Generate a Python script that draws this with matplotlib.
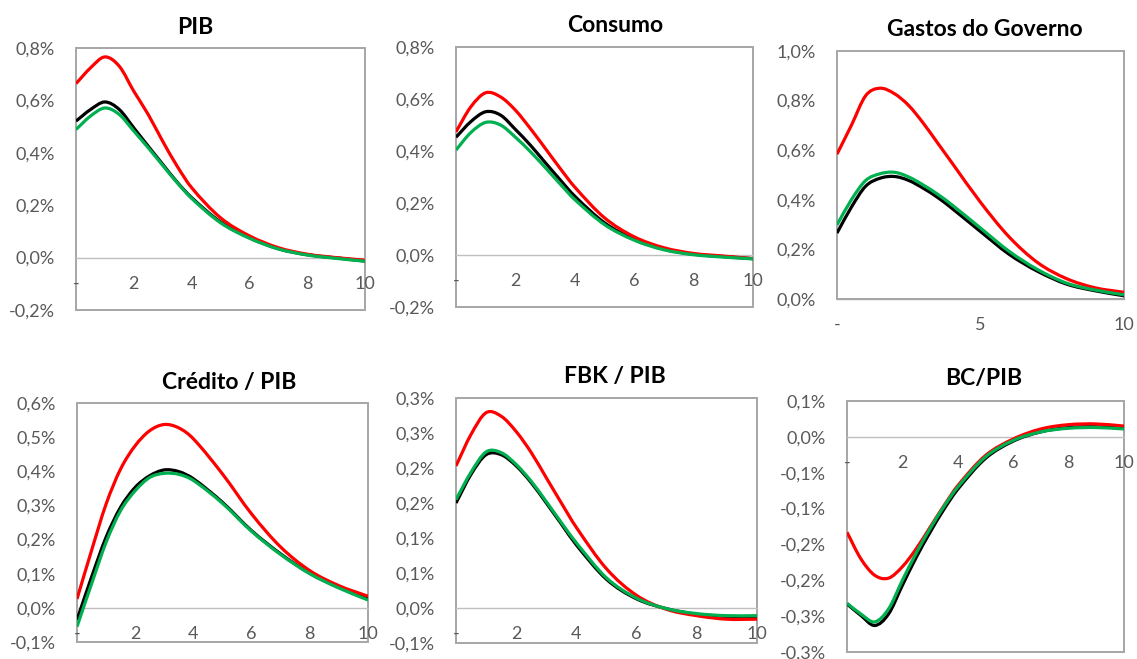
import matplotlib
matplotlib.use('Agg')
import matplotlib.pyplot as plt
from matplotlib.path import Path
from matplotlib.patches import PathPatch
from matplotlib.ticker import FixedLocator, FixedFormatter

plt.rcParams['font.family'] = ['Lato', 'DejaVu Sans']

COLORS = {'red': '#FF0000', 'black': '#000000', 'green': '#00B050'}
TICK_COLOR = '#595959'
FRAME_COLOR = '#A6A6A6'
ZERO_COLOR = '#BFBFBF'

# horizon (quarters)
x = [0, 0.5, 1, 1.5, 2, 2.5, 3, 3.5, 4, 5, 6, 7, 8, 9, 10]

# values in %
pib_red = [0.664, 0.724, 0.766, 0.730, 0.635, 0.546, 0.444, 0.349, 0.267, 0.152, 0.083, 0.038, 0.013, 0.000, -0.010]
pib_black = [0.521, 0.565, 0.594, 0.565, 0.495, 0.425, 0.356, 0.288, 0.229, 0.136, 0.076, 0.034, 0.011, -0.001, -0.013]
pib_green = [0.489, 0.540, 0.571, 0.546, 0.483, 0.419, 0.352, 0.286, 0.226, 0.133, 0.074, 0.033, 0.010, -0.003, -0.014]

cons_red = [0.474, 0.570, 0.624, 0.608, 0.557, 0.487, 0.411, 0.334, 0.261, 0.143, 0.070, 0.028, 0.006, -0.004, -0.014]
cons_black = [0.453, 0.513, 0.551, 0.538, 0.483, 0.423, 0.356, 0.290, 0.226, 0.124, 0.060, 0.022, 0.003, -0.006, -0.014]
cons_green = [0.404, 0.471, 0.510, 0.500, 0.453, 0.398, 0.337, 0.274, 0.213, 0.117, 0.057, 0.020, 0.001, -0.008, -0.015]

gov_red = [0.584, 0.700, 0.820, 0.850, 0.828, 0.780, 0.710, 0.630, 0.550, 0.390, 0.250, 0.146, 0.082, 0.045, 0.027]
gov_black = [0.266, 0.370, 0.455, 0.487, 0.494, 0.478, 0.447, 0.410, 0.366, 0.272, 0.180, 0.111, 0.060, 0.033, 0.013]
gov_green = [0.299, 0.400, 0.478, 0.505, 0.511, 0.492, 0.460, 0.423, 0.380, 0.286, 0.192, 0.118, 0.064, 0.036, 0.017]

cred_red = [0.026, 0.168, 0.304, 0.407, 0.475, 0.519, 0.537, 0.527, 0.495, 0.392, 0.275, 0.178, 0.109, 0.065, 0.034]
cred_black = [-0.035, 0.090, 0.207, 0.295, 0.353, 0.387, 0.404, 0.399, 0.378, 0.309, 0.226, 0.158, 0.101, 0.060, 0.026]
cred_green = [-0.055, 0.070, 0.192, 0.285, 0.343, 0.382, 0.394, 0.391, 0.373, 0.306, 0.224, 0.156, 0.100, 0.058, 0.023]

fbk_red = [0.203, 0.248, 0.279, 0.274, 0.252, 0.222, 0.186, 0.150, 0.115, 0.056, 0.018, -0.002, -0.011, -0.016, -0.016]
fbk_black = [0.150, 0.191, 0.219, 0.219, 0.203, 0.179, 0.150, 0.120, 0.090, 0.041, 0.013, -0.001, -0.009, -0.012, -0.012]
fbk_green = [0.155, 0.194, 0.223, 0.222, 0.205, 0.181, 0.152, 0.122, 0.093, 0.043, 0.014, -0.001, -0.008, -0.011, -0.011]

bc_red = [-0.133, -0.170, -0.193, -0.197, -0.181, -0.156, -0.126, -0.096, -0.068, -0.026, -0.003, 0.011, 0.017, 0.018, 0.015]
bc_black = [-0.233, -0.249, -0.263, -0.247, -0.207, -0.168, -0.133, -0.101, -0.073, -0.030, -0.006, 0.007, 0.013, 0.014, 0.012]
bc_green = [-0.232, -0.247, -0.258, -0.240, -0.200, -0.162, -0.128, -0.097, -0.070, -0.028, -0.005, 0.007, 0.012, 0.013, 0.011]

titles = ['PIB', 'Consumo', 'Gastos do Governo', 'Crédito / PIB', 'FBK / PIB', 'BC/PIB']

xticks_main = [0, 2, 4, 6, 8, 10]
xlabels_main = ['-', '2', '4', '6', '8', '10']
xticks_gov = [0, 5, 10]
xlabels_gov = ['-', '5', '10']

yticks_pib = [-0.2, 0.0, 0.2, 0.4, 0.6, 0.8]
ylabels_pib = ['-0,2%', '0,0%', '0,2%', '0,4%', '0,6%', '0,8%']
yticks_gov = [0.0, 0.2, 0.4, 0.6, 0.8, 1.0]
ylabels_gov = ['0,0%', '0,2%', '0,4%', '0,6%', '0,8%', '1,0%']
yticks_cred = [-0.1, 0.0, 0.1, 0.2, 0.3, 0.4, 0.5, 0.6]
ylabels_cred = ['-0,1%', '0,0%', '0,1%', '0,2%', '0,3%', '0,4%', '0,5%', '0,6%']
yticks_fbk = [-0.05, 0.0, 0.05, 0.10, 0.15, 0.20, 0.25, 0.30]
ylabels_fbk = ['-0,1%', '0,0%', '0,1%', '0,1%', '0,2%', '0,2%', '0,3%', '0,3%']
yticks_bc = [-0.30, -0.25, -0.20, -0.15, -0.10, -0.05, 0.0, 0.05]
ylabels_bc = ['-0,3%', '-0,3%', '-0,2%', '-0,2%', '-0,1%', '-0,1%', '0,0%', '0,1%']

panels = [
    (pib_red, pib_black, pib_green, yticks_pib, ylabels_pib, xticks_main, xlabels_main),
    (cons_red, cons_black, cons_green, yticks_pib, ylabels_pib, xticks_main, xlabels_main),
    (gov_red, gov_black, gov_green, yticks_gov, ylabels_gov, xticks_gov, xlabels_gov),
    (cred_red, cred_black, cred_green, yticks_cred, ylabels_cred, xticks_main, xlabels_main),
    (fbk_red, fbk_black, fbk_green, yticks_fbk, ylabels_fbk, xticks_main, xlabels_main),
    (bc_red, bc_black, bc_green, yticks_bc, ylabels_bc, xticks_main, xlabels_main),
]

W, H = 1137, 659
# axes boxes in pixels: left, top, right, bottom
boxes = [(76, 48, 365, 310), (456, 47, 753, 307), (837, 51, 1124, 299),
         (77, 403, 368, 642), (456, 398, 757, 643), (847, 401, 1124, 652)]
# title centres in pixels
title_pos = [(195, 28), (615, 25), (985, 29), (229, 382), (615, 377), (984, 378)]


def smooth_line(ax, xs, ys, color, z):
    """Excel-like smoothed line: cubic Hermite segments through the data points."""
    n = len(xs)
    m = []
    for i in range(n):
        a, b = max(i - 1, 0), min(i + 1, n - 1)
        m.append((ys[b] - ys[a]) / (xs[b] - xs[a]))
    verts = [(xs[0], ys[0])]
    codes = [Path.MOVETO]
    for i in range(n - 1):
        h = xs[i + 1] - xs[i]
        verts += [(xs[i] + h / 3, ys[i] + m[i] * h / 3),
                  (xs[i + 1] - h / 3, ys[i + 1] - m[i + 1] * h / 3),
                  (xs[i + 1], ys[i + 1])]
        codes += [Path.CURVE4] * 3
    patch = PathPatch(Path(verts, codes), facecolor='none', edgecolor=color,
                      lw=2.3, zorder=z, capstyle='butt', joinstyle='round')
    ax.add_patch(patch)


fig = plt.figure(figsize=(W / 100, H / 100), dpi=100)
fig.patch.set_facecolor('white')

for i, (red, black, green, yt, yl, xt, xl) in enumerate(panels):
    l, t, r, b = boxes[i]
    ax = fig.add_axes([l / W, 1 - b / H, (r - l) / W, (b - t) / H])
    smooth_line(ax, x, black, COLORS['black'], 3)
    smooth_line(ax, x, red, COLORS['red'], 4)
    smooth_line(ax, x, green, COLORS['green'], 5)
    ax.set_xlim(0, 10)
    ax.set_ylim(yt[0], yt[-1])

    # frame
    for s in ['top', 'left', 'right']:
        ax.spines[s].set_visible(False)
    ax.patch.set_edgecolor(FRAME_COLOR)
    ax.patch.set_linewidth(1.4)
    ax.patch.set_zorder(0)
    # horizontal axis crosses at zero
    ax.spines['bottom'].set_position(('data', 0))
    ax.spines['bottom'].set_color(ZERO_COLOR if yt[0] < 0 else FRAME_COLOR)
    ax.spines['bottom'].set_linewidth(1.0)
    ax.spines['bottom'].set_zorder(1)

    ax.xaxis.set_major_locator(FixedLocator(xt))
    ax.xaxis.set_major_formatter(FixedFormatter(xl))
    ax.yaxis.set_major_locator(FixedLocator(yt))
    ax.yaxis.set_major_formatter(FixedFormatter(yl))
    ax.tick_params(axis='x', length=0, pad=13, labelsize=13, labelcolor=TICK_COLOR)
    ax.tick_params(axis='y', length=0, pad=15, labelsize=13, labelcolor=TICK_COLOR)

    cx, cy = title_pos[i]
    fig.text(cx / W, 1 - cy / H, titles[i], ha='center', va='center',
             fontsize=16.5, fontweight='bold', color='black')

fig.savefig('out.png', dpi=100, facecolor='white')
